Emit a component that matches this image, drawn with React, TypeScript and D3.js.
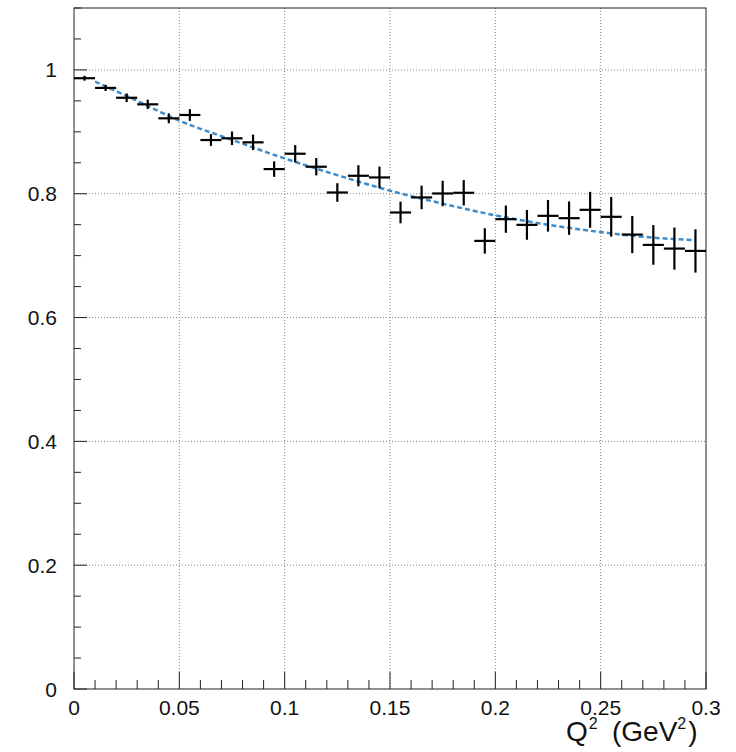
import React from "react";
import * as d3 from "d3";

const q2 = [0.005, 0.015, 0.025, 0.035, 0.045, 0.055, 0.065, 0.075, 0.085, 0.095, 0.105, 0.115, 0.125, 0.135, 0.145, 0.155, 0.165, 0.175, 0.185, 0.195, 0.205, 0.215, 0.225, 0.235, 0.245, 0.255, 0.265, 0.275, 0.285, 0.295];
const values = [0.9866, 0.9709, 0.955, 0.9444, 0.9218, 0.9272, 0.8867, 0.8895, 0.883, 0.8398, 0.8646, 0.8436, 0.802, 0.829, 0.8263, 0.7697, 0.794, 0.8004, 0.8015, 0.7238, 0.7589, 0.7497, 0.7643, 0.7605, 0.774, 0.7627, 0.734, 0.7173, 0.7114, 0.7076];
const errors = [0.004, 0.005, 0.007, 0.0075, 0.008, 0.0095, 0.0095, 0.011, 0.0125, 0.0125, 0.014, 0.014, 0.015, 0.017, 0.0175, 0.0175, 0.019, 0.0205, 0.0205, 0.0205, 0.022, 0.024, 0.0255, 0.027, 0.029, 0.032, 0.03, 0.032, 0.034, 0.035];
const binHalfWidth = 0.005;

const fitX = [0.01, 0.03, 0.05, 0.075, 0.1, 0.125, 0.15, 0.175, 0.2, 0.225, 0.25, 0.275, 0.295];
const fitY = [0.981, 0.95, 0.918, 0.887, 0.857, 0.83, 0.805, 0.784, 0.765, 0.75, 0.738, 0.729, 0.725];

const xTicks = [0, 0.05, 0.1, 0.15, 0.2, 0.25, 0.3];
const xTickLabels = ["0", "0.05", "0.1", "0.15", "0.2", "0.25", "0.3"];
const yTicks = [0, 0.2, 0.4, 0.6, 0.8, 1];
const yTickLabels = ["0", "0.2", "0.4", "0.6", "0.8", "1"];

const W = 736;
const H = 752;
const L = 74, R = 706, T = 8, B = 689;
const FONT = "'Liberation Sans', Arial, Helvetica, sans-serif";

export default function App() {
  const x = d3.scaleLinear().domain([0, 0.3]).range([L, R]);
  const y = d3.scaleLinear().domain([0, 1.1]).range([B, T]);

  const xMinor = d3.range(0, 31).map((i) => i * 0.01);
  const yMinor = d3.range(0, 23).map((i) => i * 0.05);

  const fitLine = d3
    .line<number>()
    .x((d, i) => x(fitX[i]))
    .y((d) => y(d))
    .curve(d3.curveMonotoneX);

  return (
    <svg width={W} height={H} style={{ position: "absolute", left: 0, top: 0, background: "#fff" }} fontFamily={FONT}>
      <rect x={0} y={0} width={W} height={H} fill="#fff" />
      {/* grid */}
      {xTicks.slice(1, -1).map((t) => (
        <line key={"gx" + t} x1={x(t)} x2={x(t)} y1={T} y2={B} stroke="#888" strokeWidth={1} strokeDasharray="1,2" />
      ))}
      {yTicks.slice(1).map((t) => (
        <line key={"gy" + t} x1={L} x2={R} y1={y(t)} y2={y(t)} stroke="#888" strokeWidth={1} strokeDasharray="1,2" />
      ))}
      {/* ticks */}
      {xMinor.map((t, i) => {
        const major = i % 5 === 0;
        return <line key={"tx" + i} x1={x(t)} x2={x(t)} y1={B} y2={B - (major ? 17 : 9)} stroke="#222" strokeWidth={1} />;
      })}
      {yMinor.map((t, i) => {
        const major = i % 4 === 0;
        return <line key={"ty" + i} x1={L} x2={L + (major ? 13 : 7)} y1={y(t)} y2={y(t)} stroke="#222" strokeWidth={1} />;
      })}
      {/* frame */}
      <rect x={L} y={T} width={R - L} height={B - T} fill="none" stroke="#222" strokeWidth={1} />
      {/* fit */}
      <path d={fitLine(fitY) || ""} fill="none" stroke="#3d8ccb" strokeWidth={2.5} strokeDasharray="5,3" />
      {/* data */}
      {q2.map((q, i) => (
        <g key={"p" + i} stroke="#000" strokeWidth={2.2}>
          <line x1={x(q - binHalfWidth)} x2={x(q + binHalfWidth)} y1={y(values[i])} y2={y(values[i])} />
          <line x1={x(q)} x2={x(q)} y1={y(values[i] - errors[i])} y2={y(values[i] + errors[i])} />
        </g>
      ))}
      {/* tick labels */}
      {xTicks.map((t, i) => (
        <text key={"lx" + i} x={x(t)} y={715} fontSize={21} textAnchor="middle" fill="#111">
          {xTickLabels[i]}
        </text>
      ))}
      {yTicks.map((t, i) => (
        <text key={"ly" + i} x={57} y={y(t) + 7.5} fontSize={21} textAnchor="end" fill="#111">
          {yTickLabels[i]}
        </text>
      ))}
      {/* axis title */}
      <g fill="#111">
        <text x={566} y={741} fontSize={28}>
          Q<tspan fontSize={16} dy={-12} dx={1}>2</tspan>
        </text>
        <text x={612} y={741} fontSize={28}>
          (GeV<tspan fontSize={16} dy={-12}>2</tspan>
          <tspan dy={12} dx={2}>)</tspan>
        </text>
      </g>
    </svg>
  );
}
